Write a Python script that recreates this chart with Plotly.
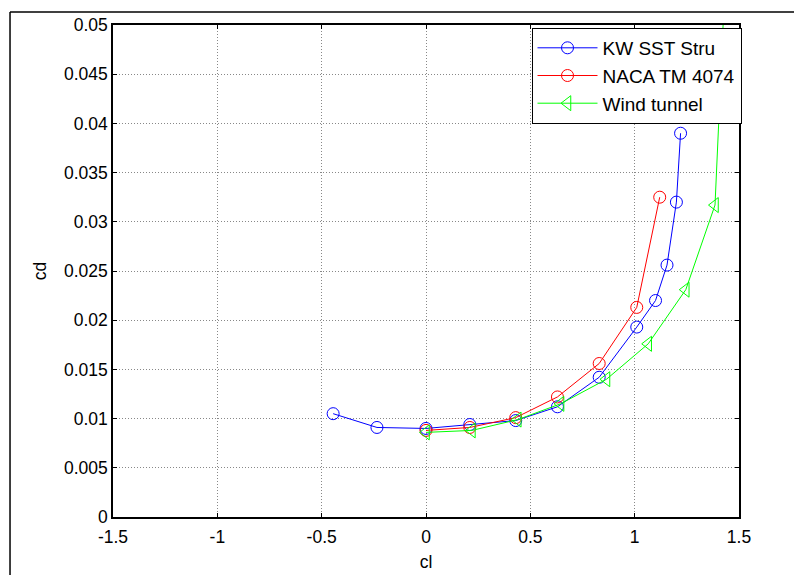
import plotly.graph_objects as go

kw_cl = [-0.445, -0.235, 0.0, 0.21, 0.43, 0.63, 0.83, 1.01, 1.10, 1.155, 1.20, 1.22]
kw_cd = [0.0105, 0.0091, 0.0090, 0.0094, 0.0098, 0.0112, 0.0142, 0.0193, 0.0220, 0.0256, 0.0320, 0.0390]

naca_cl = [0.0, 0.21, 0.43, 0.63, 0.83, 1.01, 1.12]
naca_cd = [0.0088, 0.0091, 0.0101, 0.0122, 0.0156, 0.0213, 0.0325]

wt_cl = [0.0, 0.22, 0.44, 0.645, 0.865, 1.065, 1.245, 1.385, 1.445]
wt_cd = [0.0086, 0.0088, 0.0099, 0.0115, 0.0140, 0.0176, 0.0231, 0.0317, 0.0600]

x_ticks = [-1.5, -1, -0.5, 0, 0.5, 1, 1.5]
x_labels = ["-1.5", "-1", "-0.5", "0", "0.5", "1", "1.5"]
y_ticks = [0, 0.005, 0.01, 0.015, 0.02, 0.025, 0.03, 0.035, 0.04, 0.045, 0.05]
y_labels = ["0", "0.005", "0.01", "0.015", "0.02", "0.025", "0.03", "0.035", "0.04", "0.045", "0.05"]

FONT = "Liberation Sans, Arial, sans-serif"

fig = go.Figure()
fig.add_trace(go.Scatter(x=kw_cl, y=kw_cd, mode="lines+markers", name="KW SST Stru",
                         line=dict(color="#0000FF", width=1),
                         marker=dict(symbol="circle-open", size=12, color="#0000FF", line=dict(width=1))))
fig.add_trace(go.Scatter(x=naca_cl, y=naca_cd, mode="lines+markers", name="NACA TM 4074",
                         line=dict(color="#FF0000", width=1),
                         marker=dict(symbol="circle-open", size=12, color="#FF0000", line=dict(width=1))))
fig.add_trace(go.Scatter(x=wt_cl, y=wt_cd, mode="lines+markers", name="Wind tunnel",
                         line=dict(color="#00FF00", width=1),
                         marker=dict(symbol="triangle-left-open", size=13, color="#00FF00", line=dict(width=1))))

axis_common = dict(showline=True, linecolor="black", linewidth=1.5, mirror="allticks",
                   ticks="inside", ticklen=4, tickcolor="black", showgrid=True,
                   gridcolor="#888888", griddash="1px,2px", gridwidth=1, zeroline=False,
                   tickfont=dict(family=FONT, size=17.5, color="black"))

fig.update_xaxes(range=[-1.5, 1.5], tickvals=x_ticks, ticktext=x_labels, ticklabelstandoff=3,
                 title=dict(text="cl", font=dict(family=FONT, size=17.5, color="black"), standoff=10),
                 **axis_common)
fig.update_yaxes(range=[0, 0.05], tickvals=y_ticks, ticktext=y_labels,
                 title=dict(text="cd", font=dict(family=FONT, size=17.5, color="black"), standoff=13),
                 **axis_common)

fig.update_layout(
    width=802, height=575,
    margin=dict(l=105, r=71, t=17, b=66, autoexpand=False),
    paper_bgcolor="white", plot_bgcolor="white",
    showlegend=True,
    legend=dict(x=1.004, y=0.994, xanchor="right", yanchor="top",
                bgcolor="white", bordercolor="black", borderwidth=1,
                font=dict(family=FONT, size=19, color="black"),
                itemwidth=60, tracegroupgap=0),
    shapes=[
        dict(type="line", xref="paper", yref="paper", x0=-0.1645, x1=-0.1645, y0=1.0264, y1=-0.2,
             line=dict(color="black", width=1.5)),
        dict(type="line", xref="paper", yref="paper", x0=-0.1645, x1=1.2, y0=1.0264, y1=1.0264,
             line=dict(color="black", width=1.5)),
    ],
)

fig.write_html("out.html")
